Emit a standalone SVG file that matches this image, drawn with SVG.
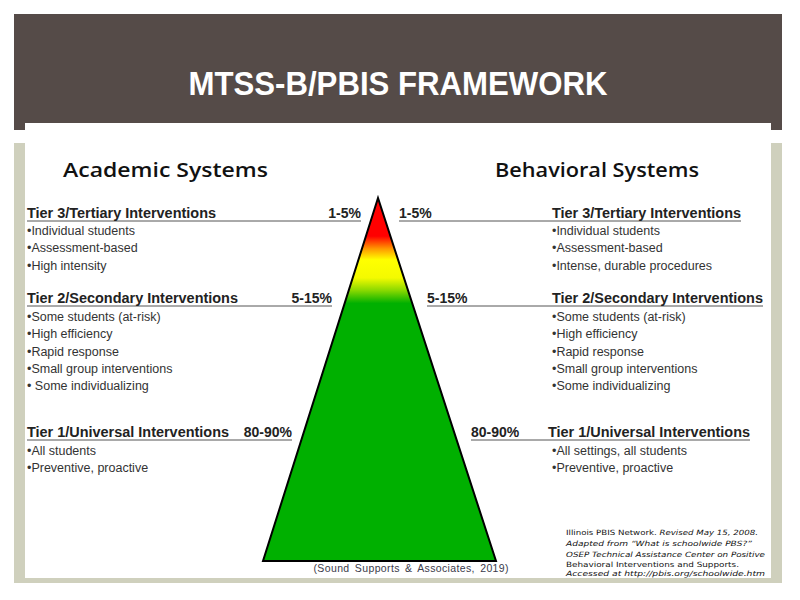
<svg xmlns="http://www.w3.org/2000/svg" width="800" height="600" viewBox="0 0 800 600">
<style>
.hd{font-family:"Liberation Sans",Arial,sans-serif;font-weight:bold;font-size:14px;fill:#222}
.bl{font-family:"Liberation Sans",Arial,sans-serif;font-size:12.5px;fill:#333}
.sys{font-family:"Open Sans","DejaVu Sans",sans-serif;font-weight:600;font-size:19px;fill:#111}
.ul{stroke:#555;stroke-width:1}
.sm{font-family:"DejaVu Sans",sans-serif;font-size:7.2px;fill:#111}
</style>
<defs>
<linearGradient id="pg" x1="0" y1="198" x2="0" y2="561" gradientUnits="userSpaceOnUse">
<stop offset="0" stop-color="#FF0000"/>
<stop offset="0.105" stop-color="#FF0000"/>
<stop offset="0.14" stop-color="#FF9900"/>
<stop offset="0.17" stop-color="#FFFF00"/>
<stop offset="0.22" stop-color="#F4FA00"/>
<stop offset="0.255" stop-color="#88D800"/>
<stop offset="0.29" stop-color="#00B000"/>
<stop offset="1" stop-color="#00B000"/>
</linearGradient>
</defs>
<rect width="800" height="600" fill="#fff"/>
<g id="frame">
<rect x="14" y="14" width="768" height="116" fill="#554B48"/>
<rect x="14" y="143" width="768" height="440" fill="#CFD0BD"/>
<rect x="25" y="123" width="746" height="455" fill="#fff"/>
</g>
<g id="title">
<text x="398" y="95" text-anchor="middle" font-family="Liberation Sans,Arial,sans-serif" font-weight="bold" font-size="33" fill="#fff" textLength="419" lengthAdjust="spacingAndGlyphs">MTSS-B/PBIS FRAMEWORK</text>
</g>
<g id="pyramid">
<polygon points="378,198 263,561 496,561" fill="url(#pg)" stroke="#000" stroke-width="2" stroke-linejoin="miter"/>
</g>
<g id="academic">
<text class="sys" x="63" y="177" textLength="205" lengthAdjust="spacingAndGlyphs">Academic Systems</text>
<g id="a-tier3">
<line class="ul" x1="27" y1="221" x2="361" y2="221"/>
<text class="hd" x="27" y="218" textLength="189" lengthAdjust="spacingAndGlyphs">Tier 3/Tertiary Interventions</text>
<text class="hd" x="361" y="218" text-anchor="end">1-5%</text>
<text class="bl" x="27" y="235">•Individual students</text>
<text class="bl" x="27" y="252">•Assessment-based</text>
<text class="bl" x="27" y="270">•High intensity</text>
</g>
<g id="a-tier2">
<line class="ul" x1="27" y1="306" x2="332" y2="306"/>
<text class="hd" x="27" y="303" textLength="211" lengthAdjust="spacingAndGlyphs">Tier 2/Secondary Interventions</text>
<text class="hd" x="332" y="303" text-anchor="end">5-15%</text>
<text class="bl" x="27" y="321">•Some students (at-risk)</text>
<text class="bl" x="27" y="338">•High efficiency</text>
<text class="bl" x="27" y="356">•Rapid response</text>
<text class="bl" x="27" y="373">•Small group interventions</text>
<text class="bl" x="27" y="390">• Some individualizing</text>
</g>
<g id="a-tier1">
<line class="ul" x1="27" y1="440" x2="292" y2="440"/>
<text class="hd" x="27" y="437" textLength="202" lengthAdjust="spacingAndGlyphs">Tier 1/Universal Interventions</text>
<text class="hd" x="292" y="437" text-anchor="end">80-90%</text>
<text class="bl" x="27" y="455">•All students</text>
<text class="bl" x="27" y="472">•Preventive, proactive</text>
</g>
</g>
<g id="behavioral">
<text class="sys" x="495" y="177" textLength="204" lengthAdjust="spacingAndGlyphs">Behavioral Systems</text>
<g id="b-tier3">
<line class="ul" x1="399" y1="221" x2="741" y2="221"/>
<text class="hd" x="399" y="218">1-5%</text>
<text class="hd" x="552" y="218" textLength="189" lengthAdjust="spacingAndGlyphs">Tier 3/Tertiary Interventions</text>
<text class="bl" x="552" y="235">•Individual students</text>
<text class="bl" x="552" y="252">•Assessment-based</text>
<text class="bl" x="552" y="270">•Intense, durable procedures</text>
</g>
<g id="b-tier2">
<line class="ul" x1="427" y1="306" x2="763" y2="306"/>
<text class="hd" x="427" y="303">5-15%</text>
<text class="hd" x="552" y="303" textLength="211" lengthAdjust="spacingAndGlyphs">Tier 2/Secondary Interventions</text>
<text class="bl" x="552" y="321">•Some students (at-risk)</text>
<text class="bl" x="552" y="338">•High efficiency</text>
<text class="bl" x="552" y="356">•Rapid response</text>
<text class="bl" x="552" y="373">•Small group interventions</text>
<text class="bl" x="552" y="390">•Some individualizing</text>
</g>
<g id="b-tier1">
<line class="ul" x1="471" y1="440" x2="750" y2="440"/>
<text class="hd" x="471" y="437">80-90%</text>
<text class="hd" x="548" y="437" textLength="202" lengthAdjust="spacingAndGlyphs">Tier 1/Universal Interventions</text>
<text class="bl" x="552" y="455">•All settings, all students</text>
<text class="bl" x="552" y="472">•Preventive, proactive</text>
</g>
</g>
<g id="citation">
<text x="411" y="572" text-anchor="middle" font-family="Liberation Sans,Arial,sans-serif" font-size="10.5" fill="#3a3a4a" word-spacing="2" textLength="195" lengthAdjust="spacing">(Sound Supports &amp; Associates, 2019)</text>
</g>
<g id="source">
<text class="sm" x="566" y="535" textLength="192" lengthAdjust="spacingAndGlyphs">Illinois PBIS Network. <tspan font-style="italic">Revised May 15, 2008.</tspan></text>
<text class="sm" x="566" y="546" font-style="italic" textLength="186" lengthAdjust="spacingAndGlyphs">Adapted from “What is schoolwide PBS?”</text>
<text class="sm" x="566" y="557" font-style="italic" textLength="199" lengthAdjust="spacingAndGlyphs">OSEP Technical Assistance Center on Positive</text>
<text class="sm" x="566" y="567" textLength="173" lengthAdjust="spacingAndGlyphs">Behavioral Interventions and Supports.</text>
<text class="sm" x="566" y="576" font-style="italic" textLength="199" lengthAdjust="spacingAndGlyphs">Accessed at http://pbis.org/schoolwide.htm</text>
</g>
</svg>
